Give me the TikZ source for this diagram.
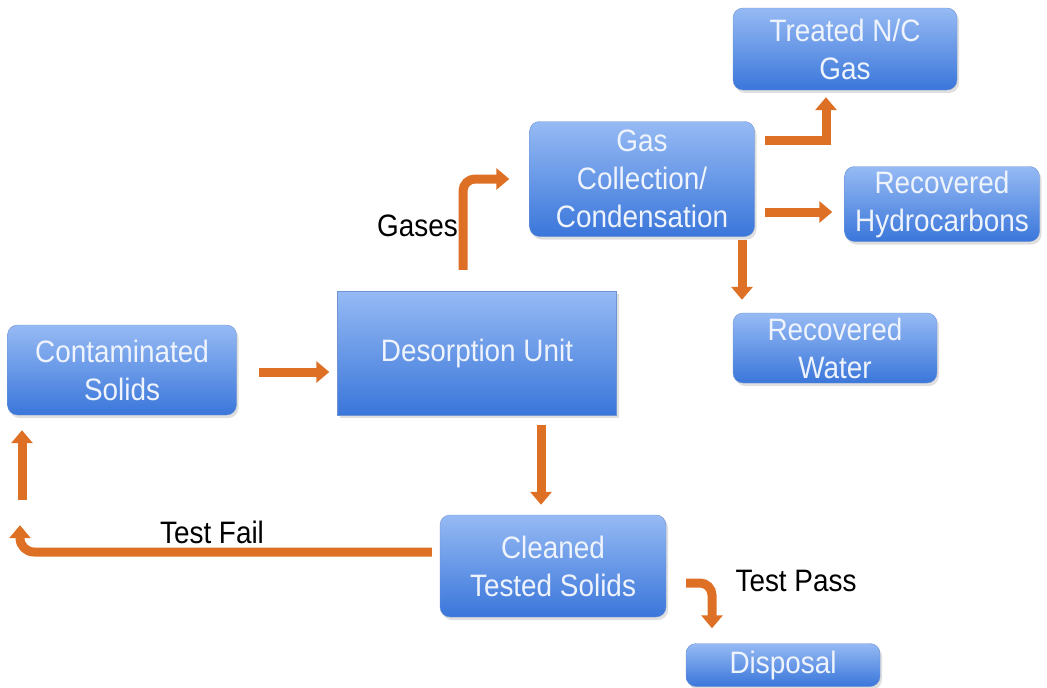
\documentclass[tikz,border=0pt]{standalone}
\usepackage{fontspec}
\setmainfont{Liberation Sans}[FakeStretch=0.9]
\usepackage{tikz}
\usetikzlibrary{arrows.meta,shadows}
\definecolor{tdorange}{RGB}{222,112,38}
\definecolor{tdtop}{RGB}{150,186,244}
\definecolor{tdbottom}{RGB}{58,118,218}
\definecolor{tdedge}{RGB}{112,148,210}
\definecolor{tdtext}{RGB}{238,243,252}
\tikzset{
  tdbox/.style={draw=tdedge, thin, rounded corners=10pt, top color=tdtop, bottom color=tdbottom, text=tdtext, align=center, inner sep=0pt, drop shadow={opacity=.25, shadow xshift=2pt, shadow yshift=-3pt}},
  tdunit/.style={tdbox, sharp corners},
  tdarr/.style={-{Triangle[width=21pt,length=13pt]}, line width=9pt, draw=tdorange},
  tdlab/.style={text=black, inner sep=0pt}
}

\begin{document}
\begin{tikzpicture}[x=1pt, y=-1pt, font=\fontsize{31}{38}\selectfont]
  \useasboundingbox (0,0) rectangle (1047,688);
  \node[tdbox, minimum width=224pt, minimum height=82pt] (treat) at (845,49) {Treated N/C\\Gas};
  \node[tdbox, minimum width=225pt, minimum height=115pt] (gas) at (642,179) {Gas\\Collection/\\Condensation};
  \node[tdbox, minimum width=195pt, minimum height=75pt] (hydro) at (942,204) {Recovered\\Hydrocarbons};
  \node[tdbox, minimum width=204pt, minimum height=70pt] (water) at (835,348) {Recovered\\Water};
  \node[tdbox, minimum width=229pt, minimum height=90pt] (cont) at (122,370) {Contaminated\\Solids};
  \node[tdunit, minimum width=279pt, minimum height=124pt] (deso) at (477,353) {Desorption Unit};
  \node[tdbox, minimum width=226pt, minimum height=102pt] (clean) at (553,566) {Cleaned\\Tested Solids};
  \node[tdbox, minimum width=194pt, minimum height=43pt] (disp) at (783,665) {Disposal};

  \draw[tdarr] ([xshift=22pt,yshift=-2pt]cont.east) -- ([xshift=-8pt,yshift=-19pt]deso.west);
  \draw[tdarr, rounded corners=12pt] ([xshift=-14pt,yshift=21pt]deso.north) |- ([xshift=-20pt]gas.west);
  \node[tdlab, anchor=east] (gases) at (458,226) {Gases};
  \draw[tdarr] ([xshift=10pt,yshift=39pt]gas.east) -| ([xshift=-19pt,yshift=-7pt]treat.south);
  \draw[tdarr] ([xshift=10pt,yshift=-33pt]gas.east) -- ([xshift=-12pt,yshift=-8pt]hydro.west);
  \draw[tdarr] ([xshift=100pt,yshift=-3pt]gas.south) -- ([xshift=-93pt,yshift=13pt]water.north);
  \draw[tdarr] ([xshift=64pt,yshift=-10pt]deso.south) -- ([xshift=-12pt,yshift=10pt]clean.north);
  % failed batches go back round
  \draw[tdarr, rounded corners=14pt] ([xshift=-8pt,yshift=14pt]clean.west) -| ([xshift=-102pt,yshift=-110pt]cont.south);
  \draw[tdarr] ([xshift=-100pt,yshift=-85pt]cont.south) -- ([xshift=-100pt,yshift=-15pt]cont.south);
  \node[tdlab] (fail) at (212,532) {Test Fail};
  \draw[tdarr, rounded corners=12pt] ([xshift=20pt,yshift=-17pt]clean.east) -| ([xshift=-71pt,yshift=15pt]disp.north);
  \node[tdlab] (pass) at (796,581) {Test Pass};
\end{tikzpicture}
\end{document}
